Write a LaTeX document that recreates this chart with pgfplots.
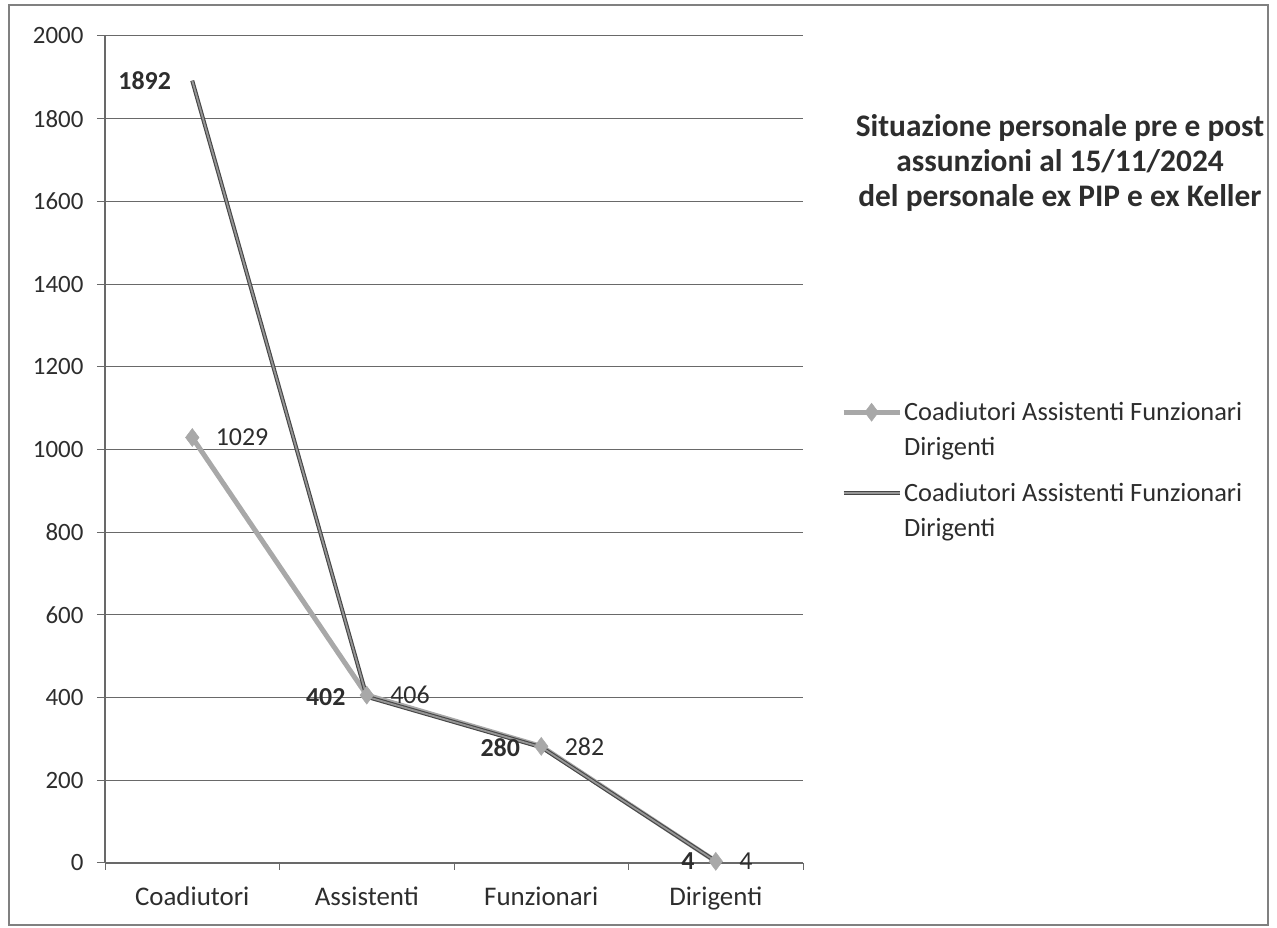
\documentclass[border=0pt]{standalone}
\usepackage{fontspec}
\setmainfont{Carlito}
\usepackage{pgfplots}
\pgfplotsset{compat=1.18}
\definecolor{lightser}{RGB}{168,168,168}
\definecolor{darkser}{RGB}{70,70,70}
\definecolor{darkin}{RGB}{150,150,150}
\definecolor{txt}{RGB}{45,45,45}
\definecolor{gridc}{RGB}{105,105,105}
\begin{document}
\begin{tikzpicture}[x=1bp,y=1bp]
\path[use as bounding box] (0,0) rectangle (1277,928);
\draw[black!50, line width=1.2bp] (9,3) rectangle (1268,923);
\begin{axis}[
  at={(105bp,65bp)}, anchor=south west,
  scale only axis, width=698bp, height=827bp,
  xmin=-0.5, xmax=3.5, ymin=0, ymax=2000,
  ytick={0,200,...,2000},
  xtick={0,1,2,3},
  xticklabels={Coadiutori,Assistenti,Funzionari,Dirigenti},
  minor xtick={-0.5,0.5,1.5,2.5,3.5},
  major x tick style={draw=none},
  axis lines*=left,
  axis line style={gridc, line width=1.2bp},
  tick style={gridc, line width=1bp},
  tick align=outside,
  major tick length=8bp, minor tick length=7bp,
  ymajorgrids,
  grid style={gridc, line width=1bp},
  /pgf/number format/assume math mode=true,
  /pgf/number format/1000 sep={},
  yticklabel style={font=\fontsize{25}{30}\selectfont, text=txt, xshift=-10bp},
  xticklabel style={font=\fontsize{27}{32}\selectfont, text=txt, yshift=-12bp},
  clip=false,
  legend style={at={(1.05,0.562)}, anchor=north west, draw=none, fill=none,
    font=\fontsize{26.5}{35}\selectfont, text=txt,
    cells={anchor=west, align=left}, row sep=22bp},
  legend cell align=left,
  legend image code/.code={
    \path[draw=none, fill=none] (0bp,-17.5bp) -- (0bp,17.5bp);
    \draw[mark repeat=2, mark phase=2, #1] plot coordinates {(0bp,17.5bp) (28bp,17.5bp) (56bp,17.5bp)};
  },
]
\addplot[lightser, line width=5bp, mark=diamond*, mark size=9bp,
  mark options={fill=lightser, draw=lightser, line width=0.5bp},
  nodes near coords, every node near coord/.append style={anchor=west, xshift=20bp, font=\fontsize{26}{30}\selectfont, text=txt}]
  coordinates {(0,1029) (1,406) (2,282) (3,4)};
\addlegendentry{Coadiutori Assistenti Funzionari\\Dirigenti}
\addplot[draw=darkser, line width=1.1bp, double=darkin, double distance=1.8bp,
  nodes near coords, every node near coord/.append style={anchor=east, xshift=-18bp, font=\fontsize{26}{30}\selectfont\bfseries, text=txt, double=none, line width=0pt}]
  coordinates {(0,1892) (1,402) (2,280) (3,4)};
\addlegendentry{Coadiutori Assistenti Funzionari\\Dirigenti}
\end{axis}
\node[align=center, font=\fontsize{31.5}{35}\selectfont\bfseries, text=txt] at (1060,765)
  {Situazione personale pre e post\\assunzioni al 15/11/2024\\del personale ex PIP e ex Keller};
\end{tikzpicture}
\end{document}
